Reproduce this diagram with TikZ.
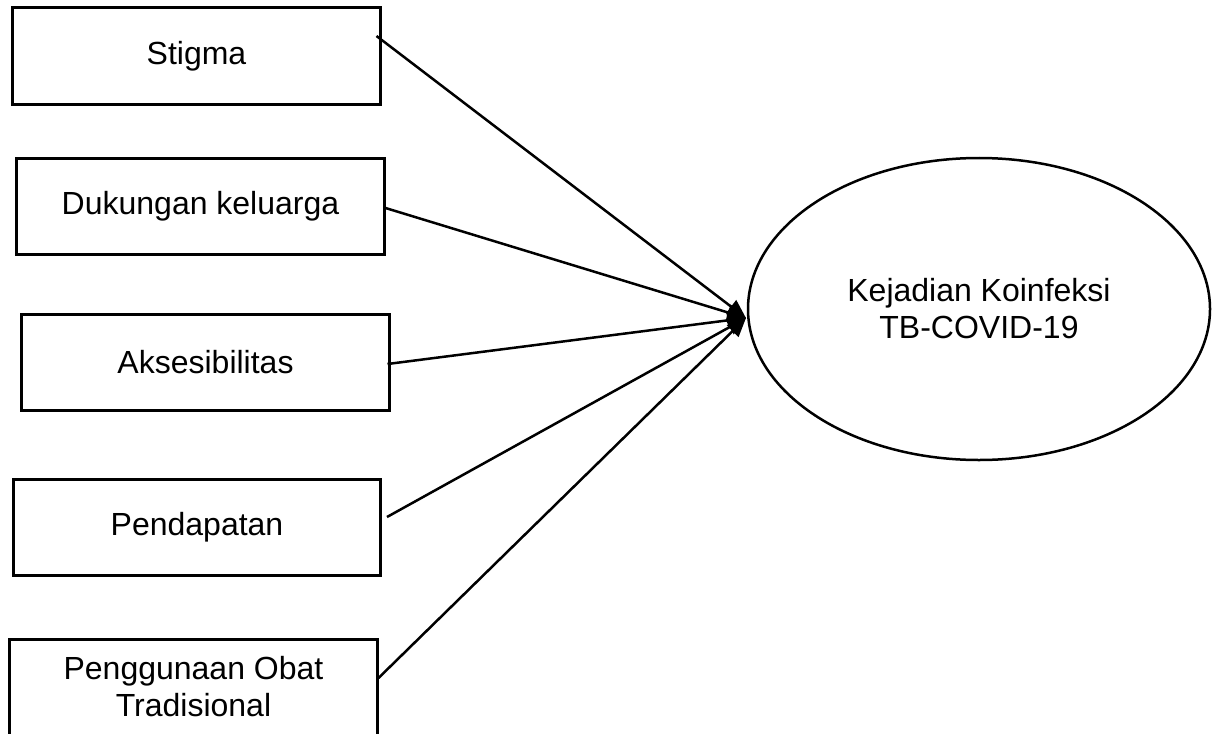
\documentclass[tikz,border=0pt]{standalone}
\usepackage{fontspec}
\setmainfont{Liberation Sans}
\usetikzlibrary{shapes.geometric,arrows.meta}

\begin{document}
\begin{tikzpicture}[x=0.4pt, y=-0.4pt,
  every node/.style = {align=center, font=\fontsize{12.8}{14.8}\selectfont},
  factor/.style = {shape=rectangle, draw, line width=1.2pt,
    minimum width=146.8pt, minimum height=38.4pt, inner sep=0pt},
  outcome/.style = {shape=ellipse, draw, line width=1pt,
    minimum width=184.8pt, minimum height=120.8pt, inner sep=0pt},
  link/.style = {line width=1pt, -{Triangle[length=7.5pt,width=6.5pt]}}]
    \useasboundingbox (0,0) rectangle (1219,733);
    \node[factor] (stigma)  at (196.5,56)  {Stigma};
    \node[factor] (dukungan) at (200.5,206.5) {Dukungan keluarga};
    \node[factor] (akses)   at (205.5,362.5) {Aksesibilitas};
    \node[factor] (pendapatan) at (197,527) {Pendapatan};
    \node[factor] (obat)    at (193.5,687) {Penggunaan Obat\\Tradisional};
    \node[outcome] (koinfeksi) at (979,309) {Kejadian Koinfeksi\\TB-COVID-19};
    \coordinate (hub) at (746,318);
    % arrows into the outcome
    \draw[link] ([xshift=-2pt,yshift=8pt]stigma.east) -- (hub);
    \draw[link] ([yshift=-0.6pt]dukungan.east) -- (hub);
    \draw[link] ([xshift=-1.2pt,yshift=-0.6pt]akses.east) -- (hub);
    \draw[link] ([xshift=2pt,yshift=4pt]pendapatan.east) -- (hub);
    \draw[link] ([yshift=3.6pt]obat.east) -- (hub);
\end{tikzpicture}
\end{document}
